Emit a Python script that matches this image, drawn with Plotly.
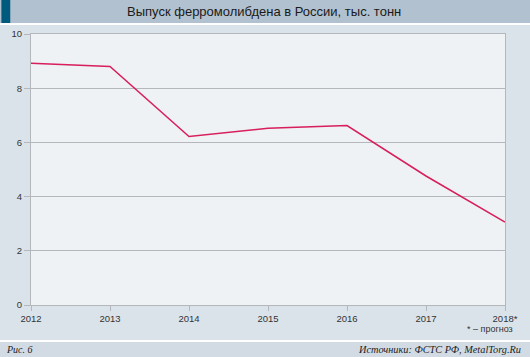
import plotly.graph_objects as go

years = [2012, 2013, 2014, 2015, 2016, 2017, 2018]
tick_labels = ["2012", "2013", "2014", "2015", "2016", "2017", "2018*"]
output = [8.92, 8.8, 6.22, 6.52, 6.62, 4.76, 3.06]

fig = go.Figure()
fig.add_trace(go.Scatter(x=years, y=output, mode="lines",
                         line=dict(color="#d81e5b", width=1.5), hoverinfo="skip"))

grid = "#b4b8bc"
fig.update_layout(
    width=530, height=357,
    margin=dict(l=30, r=20, t=34, b=52),
    paper_bgcolor="#dbe3ea",
    plot_bgcolor="#eef2f5",
    showlegend=False,
    font=dict(family="Liberation Sans, Arial, sans-serif", size=9.5, color="#333333"),
    xaxis=dict(range=[2012, 2018], tickvals=years, ticktext=tick_labels,
               showgrid=False, showline=True, linecolor=grid, mirror=True,
               ticks="outside", ticklen=5, tickcolor=grid, zeroline=False,
               tickfont=dict(size=9.5, color="#333333")),
    yaxis=dict(range=[0, 10], tickvals=[0, 2, 4, 6, 8, 10],
               showgrid=True, gridcolor=grid, gridwidth=1,
               showline=True, linecolor=grid, mirror=True,
               ticks="outside", ticklen=6, tickcolor=grid, zeroline=False,
               tickfont=dict(size=9.5, color="#333333")),
    shapes=[
        dict(type="rect", xref="paper", yref="paper", x0=-1, x1=2,
             y0=1 + (34 - 23) / 271, y1=1 + 34 / 271, fillcolor="#b2c1cf", line_width=0, layer="below"),
        dict(type="rect", xref="paper", yref="paper", x0=-30 / 480, x1=-21 / 480,
             y0=1 + (34 - 23) / 271, y1=1 + 34 / 271, fillcolor="#005a7e", line_width=0, layer="below"),
        dict(type="rect", xref="paper", yref="paper", x0=-1, x1=2,
             y0=1 + (34 - 25) / 271, y1=1 + (34 - 23) / 271, fillcolor="#ffffff", line_width=0, layer="below"),
        dict(type="rect", xref="paper", yref="paper", x0=-1, x1=2,
             y0=-(357 - 305) / 271, y1=-(341 - 305) / 271, fillcolor="#d2dbe4", line_width=0, layer="below"),
        dict(type="rect", xref="paper", yref="paper", x0=-1, x1=2,
             y0=-(342 - 305) / 271, y1=-(340 - 305) / 271, fillcolor="#ffffff", line_width=0, layer="below"),
    ],
    annotations=[
        dict(text="Выпуск ферромолибдена в России, тыс. тонн", xref="paper", yref="paper",
             x=(266 - 30) / 480, y=1 + (34 - 12) / 271, showarrow=False,
             font=dict(size=13, color="#1a1a1a", family="Liberation Sans, Arial, sans-serif"),
             xanchor="center", yanchor="middle"),
        dict(text="* – прогноз", xref="paper", yref="paper",
             x=(520 - 30) / 480, y=-(329 - 305) / 271, showarrow=False,
             font=dict(size=9, color="#333333"), xanchor="right", yanchor="middle"),
        dict(text="<i>Рис. 6</i>", xref="paper", yref="paper",
             x=-27 / 480, y=-(349 - 305) / 271, showarrow=False,
             font=dict(size=10, color="#222222", family="Liberation Serif, DejaVu Serif, serif"),
             xanchor="left", yanchor="middle"),
        dict(text="<i>Источники: ФСТС РФ, MetalTorg.Ru</i>", xref="paper", yref="paper",
             x=(528 - 30) / 480, y=-(349 - 305) / 271, showarrow=False,
             font=dict(size=10.3, color="#222222", family="Liberation Serif, DejaVu Serif, serif"),
             xanchor="right", yanchor="middle"),
    ],
)

fig.write_html("out.html", config={"displayModeBar": False},
               post_script="document.body.style.margin='0';document.body.style.overflow='hidden';")
